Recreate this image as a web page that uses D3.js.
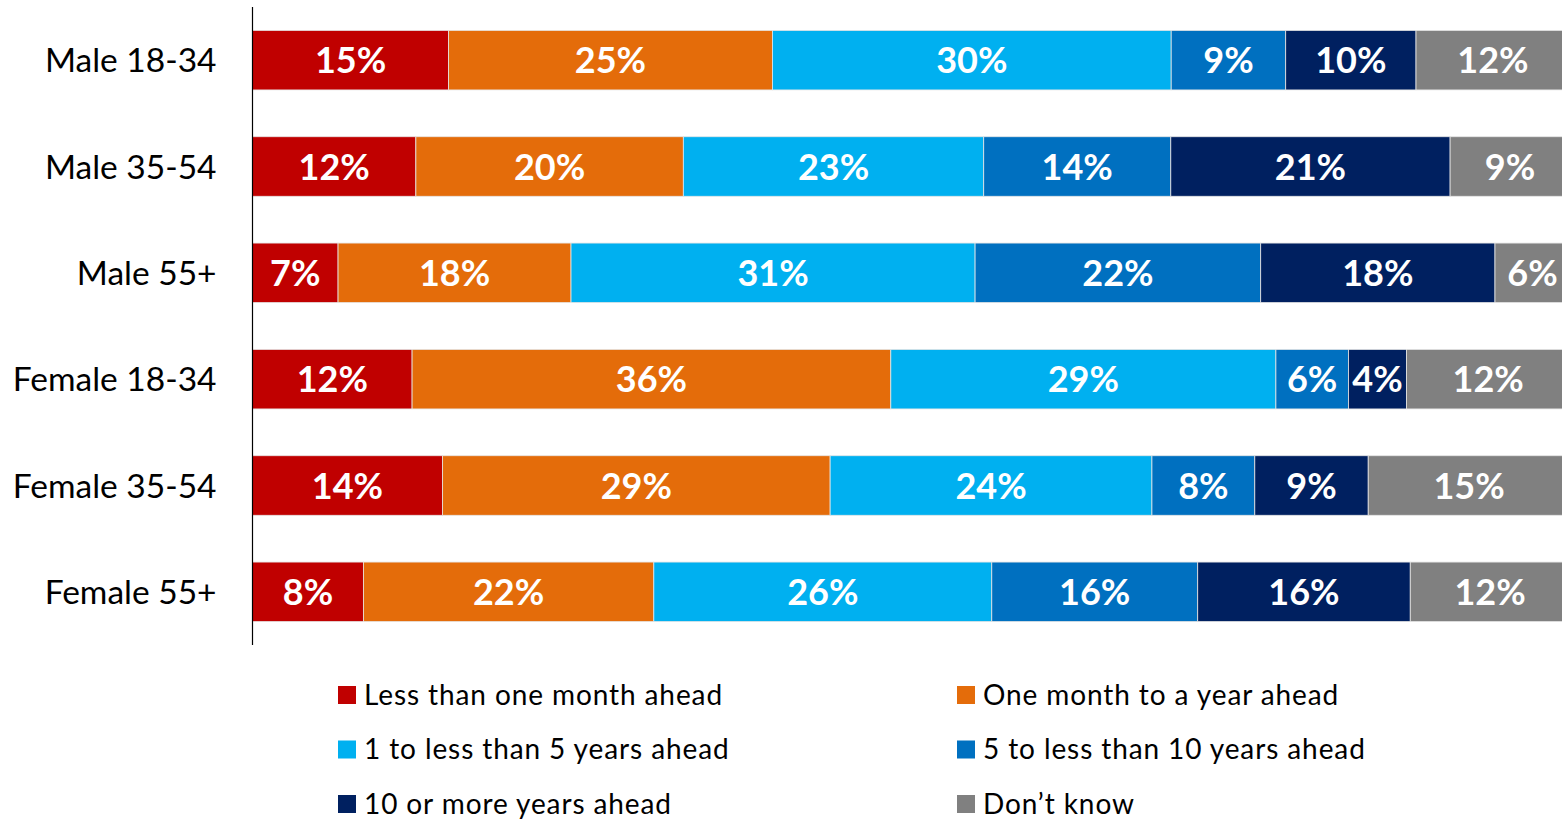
<!DOCTYPE html>
<html>
<head>
<meta charset="utf-8">
<script src="https://cdn.jsdelivr.net/npm/d3@7"></script>
<style>
  html, body { margin: 0; padding: 0; background: #fff; overflow: hidden; }
  svg { display: block; font-family: Lato, "Liberation Sans", sans-serif; }
</style>
</head>
<body>
<svg id="chart" width="1562" height="819"></svg>
<script>
// ---- data (shares in %) ----
var groups = ["Male 18-34", "Male 35-54", "Male 55+", "Female 18-34", "Female 35-54", "Female 55+"]
var seriesNames = ["Less than one month ahead", "One month to a year ahead", "1 to less than 5 years ahead",
                   "5 to less than 10 years ahead", "10 or more years ahead", "Don\u2019t know"]
var seriesColors = ["#C00000", "#E46C0A", "#00B0F0", "#0070C0", "#002060", "#808080"]

var lessMonth  = [14.9, 12.4, 6.5, 12.1, 14.4, 8.4]
var monthYear  = [24.6, 20.3, 17.7, 36.3, 29.4, 22.0]
var oneToFive  = [30.3, 22.8, 30.7, 29.2, 24.4, 25.6]
var fiveToTen  = [8.7, 14.2, 21.7, 5.5, 7.8, 15.6]
var tenPlus    = [9.9, 21.2, 17.8, 4.4, 8.6, 16.1]
var dontKnow   = [11.7, 9.1, 5.7, 12.4, 15.3, 12.1]

var seriesValues = [lessMonth, monthYear, oneToFive, fiveToTen, tenPlus, dontKnow]

// rows for d3.stack
var rows = groups.map(function(g, i) {
  var r = { group: g }
  seriesNames.forEach(function(s, k) { r[s] = seriesValues[k][i] })
  return r
})

var svg = d3.select("#chart")

//---the plot runs a little past the right edge of the picture---
var x = d3.scaleLinear().domain([0, 1]).range([252.5, 1570])
var y = d3.scaleBand().domain(groups).range([7, 645]).paddingInner(0.44).paddingOuter(0.22)
var color = d3.scaleOrdinal().domain(seriesNames).range(seriesColors)

var stack = d3.stack().keys(seriesNames).offset(d3.stackOffsetExpand)
var stacked = stack(rows)

//---bars---
var layer = svg.append("g").selectAll("g")
  .data(stacked)
  .enter().append("g")
  .attr("fill", function(d) { return color(d.key) })

layer.selectAll("rect")
  .data(function(d) { return d })
  .enter().append("rect")
  .attr("x", function(d) { return x(d[0]) })
  .attr("y", function(d) { return y(d.data.group) })
  .attr("width", function(d) { return x(d[1]) - x(d[0]) })
  .attr("height", y.bandwidth())
  .attr("stroke", "#e6e6e6")
  .attr("stroke-width", 0.8)

//---segment labels---
layer.selectAll("text")
  .data(function(d) { d.forEach(function(p) { p.key = d.key }); return d })
  .enter().append("text")
  .attr("x", function(d) { return (x(d[0]) + x(d[1])) / 2 })
  .attr("y", function(d) { return y(d.data.group) + y.bandwidth() / 2 + 13 })
  .attr("text-anchor", "middle")
  .attr("font-size", "36px")
  .attr("font-weight", "bold")
  .attr("fill", "#fff")
  .text(function(d) { return Math.round(d.data[d.key]) + "%" })

//---y axis---
var yAxis = svg.append("g")
  .attr("transform", "translate(252.5,0)")
  .call(d3.axisLeft(y).tickSize(0).tickPadding(36))
yAxis.select(".domain").attr("stroke", "#000").attr("stroke-width", 1.2)
  .attr("d", "M0,7V645")
yAxis.selectAll("text")
  .attr("font-family", "Lato, 'Liberation Sans', sans-serif")
  .attr("font-size", "33.5px")
  .attr("fill", "#000")
  .attr("dy", "0.36em")

//---legend---
var legendX = [338, 957]
var legendY = [695, 749.5, 804]
var legend = svg.append("g").selectAll("g")
  .data(seriesNames)
  .enter().append("g")
  .attr("transform", function(d, i) {
    return "translate(" + legendX[i % 2] + "," + legendY[Math.floor(i / 2)] + ")"
  })

legend.append("rect")
  .attr("x", 0)
  .attr("y", -9)
  .attr("width", 18)
  .attr("height", 18)
  .attr("fill", function(d) { return color(d) })

legend.append("text")
  .attr("x", 26)
  .attr("y", 9.5)
  .attr("font-size", "28px")
  .attr("letter-spacing", "0.9px")
  .attr("fill", "#000")
  .text(function(d) { return d })
</script>
</body>
</html>
